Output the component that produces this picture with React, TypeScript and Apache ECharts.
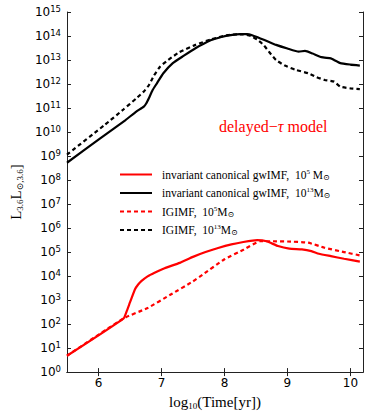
import React, { useEffect, useRef } from "react";
import * as echarts from "echarts";

// log10(L_3.6 / L_sun,3.6)
const redSolidX = [5.5, 6.4, 6.45, 6.5, 6.58, 6.63, 6.68, 6.78, 6.89, 7.05, 7.29, 7.5, 7.7, 7.9, 8.11, 8.3, 8.52, 8.67, 8.85, 9.03, 9.23, 9.38, 9.5, 9.69, 9.9, 10.15];
const redSolidY = [0.68, 2.24, 2.55, 2.9, 3.45, 3.65, 3.79, 3.99, 4.14, 4.33, 4.55, 4.8, 5.0, 5.17, 5.32, 5.42, 5.5, 5.45, 5.25, 5.14, 5.11, 5.04, 4.93, 4.83, 4.72, 4.6];

const blackSolidX = [5.5, 6.0, 6.43, 6.6, 6.72, 6.76, 6.8, 6.86, 6.93, 7.03, 7.18, 7.35, 7.54, 7.79, 7.95, 8.1, 8.25, 8.36, 8.45, 8.57, 8.7, 8.82, 9.0, 9.18, 9.28, 9.4, 9.54, 9.69, 9.74, 9.84, 10.0, 10.15];
const blackSolidY = [8.72, 9.68, 10.5, 10.85, 11.06, 11.2, 11.41, 11.75, 12.04, 12.45, 12.87, 13.17, 13.49, 13.83, 13.96, 14.04, 14.08, 14.08, 14.02, 13.9, 13.76, 13.63, 13.48, 13.35, 13.38, 13.27, 13.12, 13.07, 13.0, 12.87, 12.81, 12.77];

const redDashedX = [5.5, 6.4, 6.78, 7.14, 7.5, 7.65, 8.0, 8.31, 8.57, 8.77, 9.0, 9.33, 9.59, 9.9, 10.15];
const redDashedY = [0.68, 2.24, 2.67, 3.22, 3.78, 4.05, 4.7, 5.11, 5.45, 5.45, 5.44, 5.39, 5.18, 5.0, 4.86];

const blackDashedX = [5.5, 6.1, 6.4, 6.6, 6.72, 6.8, 6.88, 6.98, 7.08, 7.18, 7.28, 7.54, 7.79, 8.05, 8.21, 8.3, 8.42, 8.52, 8.62, 8.72, 8.82, 8.95, 9.13, 9.33, 9.45, 9.59, 9.74, 9.84, 10.0, 10.15];
const blackDashedY = [9.06, 10.3, 10.95, 11.4, 11.69, 11.95, 12.35, 12.73, 12.95, 13.14, 13.32, 13.63, 13.86, 14.04, 14.07, 14.07, 14.0, 13.85, 13.63, 13.3, 13.0, 12.78, 12.59, 12.45, 12.3, 12.17, 12.1, 11.89, 11.82, 11.79];

const xTicks = [6, 7, 8, 9, 10];
const yExponents = [0, 1, 2, 3, 4, 5, 6, 7, 8, 9, 10, 11, 12, 13, 14, 15];

const seriesNames = [
  "invariant canonical gwIMF, 1e5",
  "invariant canonical gwIMF, 1e13",
  "IGIMF, 1e5",
  "IGIMF, 1e13",
];
const legendRich: Record<string, string> = {
  [seriesNames[0]]: "{t|invariant canonical gwIMF,  10}{sup|5}{t| M}{sub|⊙}",
  [seriesNames[1]]: "{t|invariant canonical gwIMF,  10}{sup|13}{t|M}{sub|⊙}",
  [seriesNames[2]]: "{t|IGIMF,  10}{sup|5}{t|M}{sub|⊙}",
  [seriesNames[3]]: "{t|IGIMF,  10}{sup|13}{t|M}{sub|⊙}",
};

const zip = (xs: number[], ys: number[]) => xs.map((x, i) => [x, ys[i]]);

const SERIF = "'Liberation Serif', 'DejaVu Serif', serif";
const SANS = "'DejaVu Sans', sans-serif";

export default function App() {
  const ref = useRef<HTMLDivElement>(null);
  useEffect(() => {
    if (!ref.current) return;
    const chart = echarts.init(ref.current, undefined, { renderer: "svg" });
    const axisLine = { show: true, lineStyle: { color: "#222", width: 1 } };
    const tick = { inside: true, length: 4, lineStyle: { color: "#222", width: 1 } };
    const mk = (name: string, xs: number[], ys: number[], color: string, dashed: boolean) => ({
      name,
      type: "line",
      data: zip(xs, ys),
      showSymbol: false,
      symbol: "none",
      smooth: 0.15,
      lineStyle: { color, width: 2.2, type: dashed ? [4, 3] : "solid" },
      itemStyle: { color },
      z: 3,
    });
    chart.setOption({
      animation: false,
      grid: { left: 56, top: 12, right: 11, bottom: 42 },
      xAxis: [
        {
          type: "value",
          min: 5.5,
          max: 10.2,
          name: "{t|log}{s|10}{t|(Time[yr])}",
          nameLocation: "middle",
          nameGap: 8,
          nameTextStyle: {
            rich: {
              t: { fontFamily: SERIF, fontSize: 15, color: "#000" },
              s: { fontFamily: SERIF, fontSize: 9, color: "#000", verticalAlign: "bottom", padding: [8, 0, 0, 0] },
            },
          },
          axisLine,
          axisTick: { ...tick, customValues: xTicks },
          axisLabel: { customValues: xTicks, color: "#000", fontFamily: SANS, fontSize: 12, margin: 5 },
          splitLine: { show: false },
        },
        {
          type: "value",
          position: "top",
          min: 5.5,
          max: 10.2,
          axisLine,
          axisTick: { ...tick, customValues: xTicks },
          axisLabel: { show: false },
          splitLine: { show: false },
        },
      ],
      yAxis: [
        {
          type: "value",
          min: 0,
          max: 15,
          interval: 1,
          name: "{m|L}{s|3.6}{m|L}{s|⊙,3.6}{m|]}",
          nameLocation: "middle",
          nameRotate: 90,
          nameGap: 38,
          nameTextStyle: {
            rich: {
              m: { fontFamily: SERIF, fontSize: 15, color: "#000" },
              s: { fontFamily: SERIF, fontSize: 9, color: "#000", padding: [8, 0, 0, 0] },
            },
          },
          axisLine,
          axisTick: tick,
          axisLabel: {
            color: "#000",
            margin: 6,
            formatter: (v: number) => (yExponents.includes(v) ? `{b|10}{e|${v}}` : ""),
            rich: {
              b: { fontFamily: SANS, fontSize: 12, color: "#000" },
              e: { fontFamily: SANS, fontSize: 8.5, color: "#000", padding: [0, 0, 7, 0] },
            },
          },
          splitLine: { show: false },
        },
        {
          type: "value",
          position: "right",
          min: 0,
          max: 15,
          interval: 1,
          axisLine,
          axisTick: tick,
          axisLabel: { show: false },
          splitLine: { show: false },
        },
      ],
      legend: {
        orient: "vertical",
        left: 114,
        top: 163,
        itemWidth: 32,
        itemHeight: 12,
        itemGap: 5.5,
        selectedMode: false,
        data: seriesNames,
        itemStyle: { opacity: 0 },
        formatter: (name: string) => legendRich[name],
        textStyle: {
          padding: [0, 0, 0, 5],
          rich: {
            t: { fontFamily: SERIF, fontSize: 11.5, color: "#000" },
            sup: { fontFamily: SERIF, fontSize: 7, color: "#000", padding: [0, 0, 6, 0] },
            sub: { fontFamily: SERIF, fontSize: 8, color: "#000", padding: [5, 0, 0, 0] },
          },
        },
      },
      graphic: [
        {
          type: "text",
          left: 219,
          top: 118,
          style: {
            text: "{a|delayed−}{b|τ}{a| model}",
            rich: {
              a: { fontFamily: SERIF, fontSize: 16, fill: "#ff0000" },
              b: { fontFamily: SERIF, fontSize: 16, fontStyle: "italic", fill: "#ff0000" },
            },
          },
        },
      ],
      series: [
        mk(seriesNames[0], redSolidX, redSolidY, "#ff0000", false),
        mk(seriesNames[1], blackSolidX, blackSolidY, "#000000", false),
        mk(seriesNames[2], redDashedX, redDashedY, "#ff0000", true),
        mk(seriesNames[3], blackDashedX, blackDashedY, "#000000", true),
      ],
    });
    return () => chart.dispose();
  }, []);
  return (
    <div
      ref={ref}
      style={{ position: "fixed", left: 0, top: 0, width: 374, height: 415, background: "#fff" }}
    />
  );
}
